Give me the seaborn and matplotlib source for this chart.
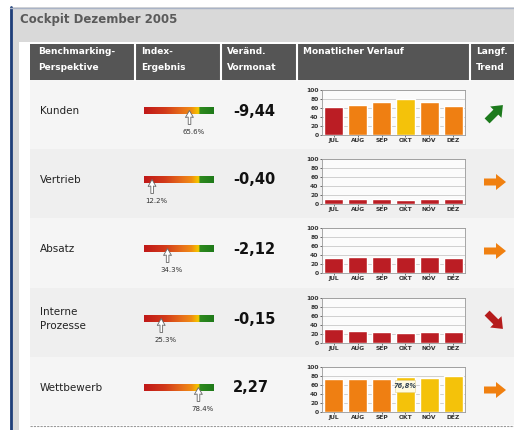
import numpy as np
import pandas as pd
import matplotlib
matplotlib.use("Agg")
import matplotlib.pyplot as plt
import seaborn as sns
from matplotlib.colors import LinearSegmentedColormap
from matplotlib.patches import Rectangle, Polygon, FancyArrow

# -------------------------------
# Data
# -------------------------------
PERSPEKTIVEN = ["Kunden", "Vertrieb", "Absatz", "Interne\nProzesse", "Wettbewerb"]
INDEX_PCT = [65.6, 12.2, 34.3, 25.3, 78.4]
VERAENDERUNG = [-9.44, -0.40, -2.12, -0.15, 2.27]
MONATE = ["JUL", "AUG", "SEP", "OKT", "NOV", "DEZ"]
KUNDEN = [62, 66, 73, 79, 74, 65]
VERTRIEB = [12, 11, 11, 10, 11, 11]
ABSATZ = [34, 35, 35, 35, 36, 33]
INTERNE = [31, 27, 24, 23, 24, 24]
WETTBEWERB = [73, 73, 74, 76.8, 76, 79]
TRENDS = ["up", "flat", "flat", "down", "flat"]
HEADERS = ["Benchmarking-\nPerspektive", "Index-\nErgebnis", "Veränd.\nVormonat",
           "Monatlicher Verlauf", "Langf.\nTrend"]
TITLE = "Cockpit Dezember 2005"
TOOLTIP_ROW, TOOLTIP_MONTH = 4, "OKT"

# -------------------------------
# Config
# -------------------------------
W, H = 514, 430
ROW_TOP = [80, 149, 218, 288, 357]
ROW_BOTTOM = 425
HEADER_X = [30, 135, 221, 297, 470]
RED, ORANGE, YELLOW = "#bb1d24", "#ef7f12", "#f4c20a"

sns.set_style("white")
plt.rcParams["font.family"] = ["DejaVu Sans"]


def bar_color(v):
    if v < 64:
        return RED
    if v < 75:
        return ORANGE
    return YELLOW


def px_axes(fig, x0, y0, x1, y1):
    return fig.add_axes([x0 / W, 1 - y1 / H, (x1 - x0) / W, (y1 - y0) / H])


fig = plt.figure(figsize=(W / 100, H / 100), dpi=100)
bg = fig.add_axes([0, 0, 1, 1])
bg.set_xlim(0, W)
bg.set_ylim(H, 0)
bg.axis("off")

# frame
bg.add_patch(Rectangle((10, 7), W - 10, H - 7, fc="#d9d9d9", ec="none"))
bg.add_patch(Rectangle((19, 42), W - 19, H - 42, fc="white", ec="none"))
bg.plot([10.5, 10.5], [7, H], color="#1f3f7a", lw=2)
bg.plot([10, W], [7.5, 7.5], color="#a9b3c6", lw=1)
bg.text(20, 19, TITLE, fontsize=8.5, fontweight="bold", color="#5a5a5a", va="center")

# header
bg.add_patch(Rectangle((30, 44), W - 30, 36, fc="#555555", ec="none"))
for x in HEADER_X[1:]:
    bg.plot([x, x], [44, 80], color="white", lw=1.5)
for x, h in zip(HEADER_X, HEADERS):
    for k, line in enumerate(h.split("\n")):
        bg.text(x + 8 if x == 30 else x + 6, 51 + k * 16, line, fontsize=6.5,
                fontweight="bold", color="white", va="center")

# rows
bounds = ROW_TOP + [ROW_BOTTOM]
for i in range(5):
    bg.add_patch(Rectangle((30, bounds[i]), W - 30, bounds[i + 1] - bounds[i],
                           fc="#f5f5f5" if i % 2 == 0 else "#efefef", ec="none"))
bg.plot([30, W], [426, 426], color="#999999", lw=0.8, ls=(0, (2, 1)))

gauge_cmap = LinearSegmentedColormap.from_list("gauge", [
    (0.0, "#c01818"), (0.3, "#d23a1a"), (0.55, "#e8701a"), (0.68, "#f08c12"),
    (0.75, "#f4b800"), (0.785, "#f0c800"), (0.80, "#2e8a1e"), (1.0, "#1f7a1a")])
grad = np.linspace(0, 1, 256)[None, :]

series = [KUNDEN, VERTRIEB, ABSATZ, INTERNE, WETTBEWERB]
arrow_col = {"up": "#1c7a1c", "flat": "#f08010", "down": "#b51c1c"}
arrow_dir = {"up": (0.72, -0.72), "flat": (1, 0), "down": (0.72, 0.72)}

for i, top in enumerate(ROW_TOP):
    # label
    bg.text(40, top + 31, PERSPEKTIVEN[i], fontsize=7.5, color="#222222",
            va="center", linespacing=1.5)

    # gauge
    g0, g1, gy = 143.5, 213.5, top + 27
    bg.imshow(grad, cmap=gauge_cmap, extent=(g0, g1, gy + 7, gy), aspect="auto", zorder=3)
    px = g0 + INDEX_PCT[i] / 100 * (g1 - g0)
    tip = gy + 3.5
    pointer = np.array([[0, 0], [-4, 7], [-1.2, 6.5], [-1.2, 14], [1.4, 14],
                        [1.4, 6.5], [4, 7]]) + [px, tip]
    bg.add_patch(Polygon(pointer, closed=True, fc="white", ec="#666666", lw=0.6, zorder=4))
    bg.text(px + 4, top + 52, f"{INDEX_PCT[i]:.1f}%", fontsize=5, color="#333333",
            ha="center", va="center")

    # change vs previous month
    bg.text(233, top + 31, f"{VERAENDERUNG[i]:.2f}".replace(".", ","), fontsize=10.5,
            fontweight="bold", color="#111111", va="center")

    # trend arrow
    dx, dy = arrow_dir[TRENDS[i]]
    L = 22
    cx, cy = 495, top + 33
    bg.add_patch(FancyArrow(cx - dx * L / 2, cy - dy * L / 2, dx * L, dy * L, width=7,
                            head_width=16, head_length=10, length_includes_head=True,
                            fc=arrow_col[TRENDS[i]], ec="none", zorder=3))

    # monthly bars
    ax = px_axes(fig, 322, top + 10, 465, top + 55)
    df = pd.DataFrame({"Monat": MONATE, "Wert": series[i]})
    pal = {m: bar_color(v) for m, v in zip(MONATE, series[i])}
    sns.barplot(data=df, x="Monat", y="Wert", hue="Monat", palette=pal, legend=False,
                ax=ax, width=0.8, saturation=1)
    ax.set_facecolor("#fbfbfb")
    ax.set_ylim(0, 100)
    ax.set_yticks(range(0, 101, 20))
    ax.yaxis.grid(True, color="#c8c8c8", lw=0.6)
    ax.set_axisbelow(True)
    ax.set_xlabel("")
    ax.set_ylabel("")
    for s in ax.spines.values():
        s.set_color("#9a9a9a")
        s.set_linewidth(0.6)
    ax.tick_params(labelsize=4.3, length=1.5, width=0.5, pad=1, colors="#333333",
                   left=True, bottom=True)
    for t in ax.get_xticklabels() + ax.get_yticklabels():
        t.set_fontweight("bold")

    if i == TOOLTIP_ROW:
        j = MONATE.index(TOOLTIP_MONTH)
        v = series[i][j]
        ax.add_patch(Rectangle((j - 0.42, 44), 0.84, 27, fc="#fffbe0", ec="#e0d090",
                               lw=0.4, zorder=5))
        ax.text(j, 57, f"{v:.1f}%".replace(".", ","), fontsize=4.8, style="italic",
                fontweight="bold", ha="center", va="center", color="#334455", zorder=6)

fig.savefig("out.png", dpi=100)
